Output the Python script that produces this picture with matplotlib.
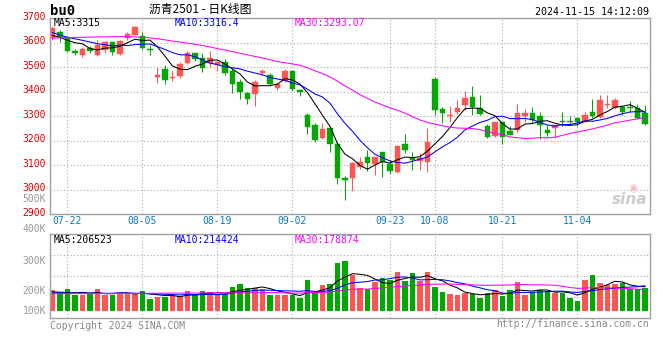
import numpy as np
import pandas as pd
import matplotlib
matplotlib.use('Agg')
import matplotlib.pyplot as plt
from matplotlib.transforms import ScaledTranslation

# 交易日: 2024-07-18 ~ 2024-11-15, 去掉中秋/国庆休市
holidays = ['2024-09-16', '2024-09-17', '2024-10-01', '2024-10-02',
            '2024-10-03', '2024-10-04', '2024-10-07']
dates = pd.bdate_range('2024-07-18', '2024-11-15')
dates = dates[~dates.isin(pd.to_datetime(holidays))]

opens = [3619, 3644, 3622, 3565, 3551, 3578, 3551, 3572, 3603, 3554, 3619, 3633, 3626, 3574, 3458, 3492, 3457, 3465, 3517, 3559,
         3537, 3517, 3509, 3521, 3486, 3439, 3396, 3390, 3476, 3467, 3415, 3442, 3486, 3407, 3303, 3265, 3210, 3251, 3186, 3047,
         3047, 3092, 3133, 3105, 3152, 3105, 3071, 3186, 3127, 3115, 3112, 3452, 3330, 3300, 3319, 3344, 3377, 3333, 3258, 3217,
         3276, 3240, 3244, 3299, 3313, 3299, 3243, 3251, 3280, 3280, 3292, 3278, 3317, 3295, 3344, 3333, 3336, 3337, 3333, 3312]
closes = [3660, 3622, 3565, 3557, 3574, 3565, 3592, 3603, 3562, 3606, 3637, 3664, 3578, 3569, 3467, 3449, 3462, 3514, 3559, 3535,
          3497, 3537, 3520, 3476, 3432, 3398, 3371, 3439, 3483, 3431, 3431, 3483, 3412, 3398, 3257, 3203, 3247, 3186, 3047, 3041,
          3108, 3112, 3108, 3133, 3112, 3077, 3179, 3163, 3122, 3129, 3194, 3326, 3313, 3306, 3333, 3374, 3338, 3308, 3213, 3276,
          3213, 3224, 3313, 3313, 3285, 3262, 3233, 3262, 3277, 3277, 3278, 3303, 3300, 3367, 3349, 3367, 3319, 3333, 3292, 3268]
highs = [3663, 3652, 3623, 3576, 3581, 3585, 3610, 3608, 3604, 3611, 3646, 3670, 3646, 3589, 3499, 3510, 3486, 3520, 3565, 3560,
         3558, 3567, 3527, 3535, 3497, 3453, 3397, 3447, 3492, 3476, 3435, 3494, 3487, 3412, 3313, 3272, 3272, 3258, 3190, 3054,
         3112, 3131, 3160, 3134, 3153, 3122, 3183, 3227, 3153, 3149, 3251, 3460, 3337, 3340, 3367, 3404, 3423, 3387, 3268, 3278,
         3277, 3258, 3349, 3330, 3336, 3317, 3265, 3263, 3315, 3302, 3293, 3317, 3370, 3385, 3387, 3374, 3344, 3360, 3349, 3344]
lows = [3612, 3603, 3562, 3551, 3543, 3558, 3544, 3558, 3551, 3551, 3612, 3630, 3576, 3551, 3435, 3432, 3442, 3456, 3513, 3527,
        3480, 3499, 3486, 3469, 3394, 3371, 3349, 3341, 3467, 3426, 3408, 3439, 3401, 3381, 3227, 3194, 3208, 3153, 3024, 2958,
        2995, 3085, 3077, 3060, 3051, 3064, 3069, 3149, 3081, 3078, 3071, 3306, 3272, 3278, 3310, 3326, 3306, 3303, 3210, 3213,
        3186, 3221, 3235, 3276, 3274, 3208, 3217, 3210, 3258, 3268, 3258, 3276, 3292, 3292, 3333, 3330, 3303, 3319, 3288, 3262]
# 成交量(千手)
volumes = [176, 157, 185, 134, 134, 140, 185, 134, 134, 154, 154, 140, 168, 101, 120, 120, 143, 115, 168, 134,
           168, 160, 140, 140, 202, 230, 196, 196, 185, 134, 134, 134, 134, 112, 261, 157, 218, 227, 401, 420,
           303, 190, 182, 246, 274, 261, 331, 252, 317, 255, 331, 202, 160, 143, 134, 154, 140, 112, 154, 176,
           129, 176, 244, 134, 157, 176, 168, 154, 154, 112, 84, 261, 303, 238, 218, 227, 232, 182, 182, 196]

# 图中可见区间之前的均线起始值
ma5_head = [3630, 3622, 3610, 3600]
ma10_head = [3642, 3631, 3623, 3616, 3610, 3603, 3596, 3592, 3587]
ma30_head = [3619, 3620, 3621, 3622, 3622, 3623, 3624, 3624, 3625, 3625,
             3625, 3624, 3622, 3620, 3616, 3612, 3607, 3603, 3598, 3594,
             3589, 3583, 3576, 3570, 3564, 3557, 3551, 3544, 3538]
vma5_head = [160, 158, 155, 152]
vma10_head = [152, 152, 151, 151, 150, 150, 149, 149, 149]
vma30_head = [145, 145, 145, 146, 146, 146, 147, 147, 147, 148,
              148, 148, 149, 149, 149, 150, 150, 150, 151, 151,
              151, 152, 152, 152, 153, 153, 153, 154, 154]

date_labels = ['07-22', '08-05', '08-19', '09-02', '09-23', '10-08', '10-21', '11-04']
price_ticks = [2900, 3000, 3100, 3200, 3300, 3400, 3500, 3600, 3700]
vol_labels = ['500K', '400K', '300K', '200K', '100K']
vol_label_y = [199, 228.5, 260.5, 290.5, 310.5]   # 像素位置(图上)

ma_text = ['MA5:3315', 'MA10:3316.4', 'MA30:3293.07']
vma_text = ['MA5:206523', 'MA10:214424', 'MA30:178874']


def with_head(values, n, head):
    s = pd.Series(values, dtype=float).rolling(n).mean().to_numpy()
    s[:len(head)] = head
    return s


o = np.array(opens); c = np.array(closes)
h = np.array(highs); l = np.array(lows)
v = np.array(volumes) * 1000.0
x = np.arange(len(dates))
up = c >= o
RED, GREEN = '#ff5555', '#00a800'
cols = np.where(up, RED, GREEN)

ma5 = with_head(c, 5, ma5_head)
ma10 = with_head(c, 10, ma10_head)
ma30 = with_head(c, 30, ma30_head)
vma5 = with_head(v, 5, np.array(vma5_head) * 1000)
vma10 = with_head(v, 10, np.array(vma10_head) * 1000)
vma30 = with_head(v, 30, np.array(vma30_head) * 1000)

plt.rcParams['font.family'] = ['DejaVu Sans Mono', 'Noto Sans CJK SC']
W, H = 660, 360
fig = plt.figure(figsize=(6.6, 3.6), dpi=100)
ax = fig.add_axes([50 / W, 1 - 214 / H, 600 / W, (214 - 18.3) / H])
axv = fig.add_axes([50 / W, 1 - 318.3 / H, 600 / W, 84 / H])

tick_idx = [list(dates.strftime('%m-%d')).index(d) for d in date_labels]

for a in (ax, axv):
    a.set_xlim(-0.33, len(x) - 0.33)
    for s in a.spines.values():
        s.set_color('#a0a0a0')
        s.set_linewidth(1)
    a.set_xticks(tick_idx)
    a.tick_params(length=0)
    a.grid(True, color='#aaaaaa', linestyle=(0, (1, 2)), linewidth=0.8)
    a.set_axisbelow(True)

# K线
ax.vlines(x, l, h, colors=cols, linewidth=0.75)
body = np.maximum(np.abs(c - o), 1.5)
ax.bar(x, body, bottom=np.minimum(o, c), width=0.74, color=cols, edgecolor=cols, linewidth=0.3)
ax.plot(x, ma5, color='black', lw=0.75)
ax.plot(x, ma10, color='#0000ff', lw=0.75)
ax.plot(x, ma30, color='#ff00ff', lw=0.75)

ax.set_ylim(2900, 3700)
ax.set_yticks(price_ticks)
ax.set_yticklabels([str(p) for p in price_ticks], color='#e00000', fontsize=7)
ax.tick_params(axis='y', pad=3)
for lab in ax.get_yticklabels():
    lab.set_transform(lab.get_transform() + ScaledTranslation(0, 2.5 / 100, fig.dpi_scale_trans))
ax.set_xticklabels(date_labels, color='#0a78c8', fontsize=7)
ax.tick_params(axis='x', pad=1.5)

# 成交量
axv.bar(x, v, width=0.76, color=cols, linewidth=0)
axv.plot(x, vma5, color='black', lw=0.75)
axv.plot(x, vma10, color='#0000ff', lw=0.75)
axv.plot(x, vma30, color='#ff00ff', lw=0.75)
lo, hi = -61300, 644500
axv.set_ylim(lo, hi)
axv.set_yticks(np.linspace(lo, hi, 5)[1:-1])
axv.set_yticklabels([])
axv.set_xticklabels([])

for lab, yp in zip(vol_labels, vol_label_y):
    fig.text(46 / W, 1 - yp / H, lab, color='#999999', fontsize=7, ha='right', va='center')

# 文字
fig.text(50 / W, 1 - 11 / H, 'bu0', fontsize=10, fontweight='bold', ha='left', va='center')
fig.text(200 / W, 1 - 9 / H, '沥青2501 - 日K线图', fontsize=8.5, ha='center', va='center',
         family=['Noto Sans CJK SC', 'DejaVu Sans'])
fig.text(649 / W, 1 - 12 / H, '2024-11-15 14:12:09', fontsize=7.2, ha='right', va='center')
for txt, xp, col in zip(ma_text, [54, 175, 295], ['black', '#0000ff', '#ff00ff']):
    fig.text(xp / W, 1 - 23 / H, txt, fontsize=7, color=col, ha='left', va='center')
for txt, xp, col in zip(vma_text, [54, 175, 295], ['black', '#0000ff', '#ff00ff']):
    fig.text(xp / W, 1 - 240 / H, txt, fontsize=7, color=col, ha='left', va='center')
fig.text(50 / W, 1 - 326 / H, 'Copyright 2024 SINA.COM', fontsize=7, color='#888888', ha='left', va='center')
fig.text(649 / W, 1 - 324 / H, 'http://finance.sina.com.cn', fontsize=7, color='#888888', ha='right', va='center')
fig.text(647 / W, 1 - 199 / H, 'sina', fontsize=11, color='#cccccc', fontweight='bold', style='italic',
         ha='right', va='center', family=['DejaVu Sans'])
fig.text(633 / W, 1 - 188 / H, '◉', fontsize=8, color='#f2c4c4', ha='center', va='center', family=['DejaVu Sans'])

fig.savefig('out.png', dpi=100)
